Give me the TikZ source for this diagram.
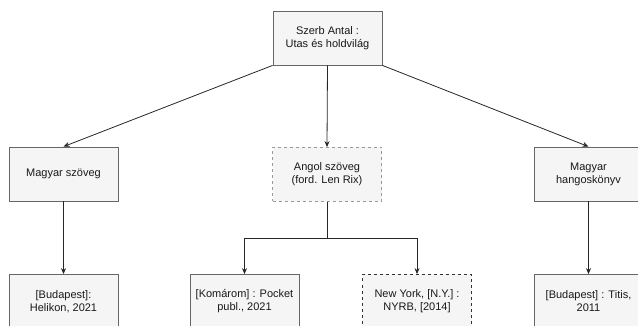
\documentclass[tikz,border=0pt]{standalone}
\usepackage{fontspec}
\setmainfont{Liberation Sans}
\usetikzlibrary{arrows.meta, positioning}
\definecolor{boxfill}{HTML}{F5F5F5}
\definecolor{boxline}{HTML}{666666}
\definecolor{lightdash}{HTML}{999999}
\definecolor{darkdash}{HTML}{333333}

\begin{document}
\begin{tikzpicture}[x=1pt, y=-1pt, >={Stealth[length=6pt,width=5pt]},
  box/.style={draw=boxline, fill=boxfill, line width=0.8pt, minimum width=109pt, minimum height=54pt, align=center, text=black!90, font=\fontsize{11}{13}\selectfont},
  dbox/.style={box, dash pattern=on 3pt off 3pt},
  link/.style={->, line width=0.8pt, draw=black!85}]
\useasboundingbox (0,0) rectangle (638,326);

\node[box] (work) at (327.5,38) {Szerb Antal :\\Utas és holdvilág};
\node[box] (hutext) at (63.5,174) {Magyar szöveg};
\node[dbox, draw=lightdash] (entext) at (327,174.5) {Angol szöveg\\(ford. Len Rix)};
\node[box] (huaudio) at (588.5,174) {Magyar\\hangoskönyv};

\node[box] (helikon) at (63.5,301.5) {[Budapest]:\\Helikon, 2021};
\node[box] (pocket) at (244.5,301.5) {[Komárom] : Pocket\\publ., 2021};
\node[dbox, draw=darkdash] (nyrb) at (417,301.5) {New York, [N.Y.] :\\NYRB, [2014]};
\node[box] (titis) at (588.5,301.5) {[Budapest] : Titis,\\2011};

\coordinate (split) at (327,238);

\draw[link] (work.south west) -- (hutext.north);
\draw[link] (work.south) -- (entext.north);
\draw[link] (work.south east) -- (huaudio.north);

\draw[link] (hutext) -- (helikon);
\draw[link] (huaudio) -- (titis);
\draw[line width=0.8pt, draw=black!85] (entext.south) -- (split);
\draw[link] (split) -| (pocket.north);
\draw[link] (split) -| (nyrb.north);

\end{tikzpicture}
\end{document}
